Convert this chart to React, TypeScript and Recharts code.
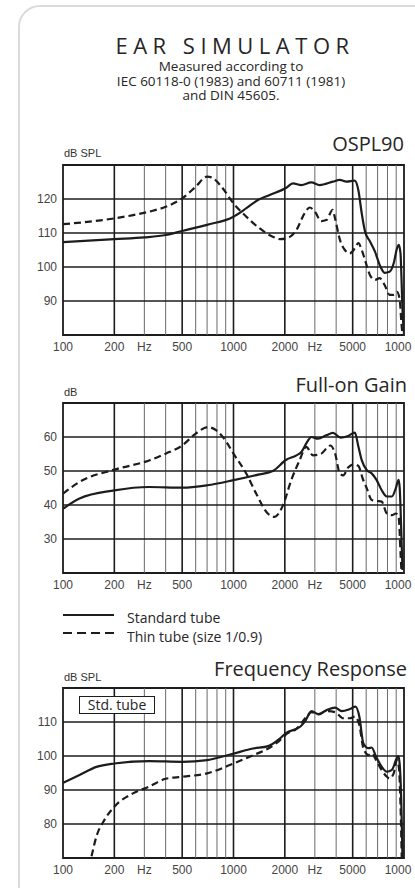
import { Line, LineChart, ReferenceArea, ReferenceLine, XAxis, YAxis } from 'recharts'

const TEXT_FONT = '"Open Sans", "Noto Sans", sans-serif'
const AXIS_FONT = '"Liberation Sans", Arial, sans-serif'
const INK = '#1c1c1c'

// frequency grid (log), labelled ticks
const gridFreqs = [100, 200, 300, 400, 500, 600, 700, 800, 900, 1000, 2000, 3000, 4000, 5000, 6000, 7000, 8000, 9000, 10000]
const majorFreqs = [200, 500, 1000, 2000, 5000]
const xTickFreqs = [100, 200, 300, 500, 1000, 2000, 3000, 5000, 10000]
const xTickLabels = ['100', '200', 'Hz', '500', '1000', '2000', 'Hz', '5000', '1000']

// OSPL90
const osplTicks = [90, 100, 110, 120]
const osplStdFreq = [100, 200, 300, 400, 500, 700, 1000, 1190, 1390, 1630, 2040, 2230, 2500, 2860, 3200, 3830, 4200, 4600, 5140, 5400, 5650, 5910, 6320, 6760, 7200, 7700, 8230, 8700, 9100, 9320, 9540, 9660, 9800, 10000]
const osplStdDb = [107.3, 108.2, 108.7, 109.4, 110.6, 112.4, 114.8, 117.3, 119.7, 121.2, 123.3, 124.6, 124.1, 124.9, 124.1, 125.1, 125.6, 125.1, 125.4, 122.6, 115.8, 110.4, 107.5, 104.5, 100.6, 98.3, 98.6, 101.1, 105.5, 106.5, 104, 97.2, 87.4, 80.5]
const osplThinFreq = [100, 200, 320, 400, 500, 600, 700, 760, 850, 1000, 1190, 1420, 1700, 1870, 2040, 2340, 2610, 2800, 3000, 3270, 3500, 3820, 3940, 4210, 4500, 4810, 5150, 5400, 5650, 5910, 6320, 6760, 7200, 7700, 8230, 8700, 9100, 9440, 9660, 9800]
const osplThinDb = [112.6, 114.3, 116.3, 117.7, 120.2, 123.6, 126.6, 126.1, 123.6, 118.7, 114.8, 111.4, 108.9, 108.2, 108.4, 110.9, 115.8, 117.5, 116.3, 113.5, 113.8, 116.8, 114.3, 108, 105, 104, 105.5, 107, 105, 102, 97.6, 96.2, 96.7, 94.7, 91.8, 91.8, 92.7, 90.3, 83.4, 80]

// Full-on gain
const gainTicks = [30, 40, 50, 60]
const gainStdFreq = [100, 125, 200, 320, 500, 700, 1000, 1420, 1700, 2040, 2340, 2500, 2700, 2860, 3130, 3500, 3830, 4250, 4700, 5150, 5400, 5650, 6040, 6460, 6900, 7390, 7930, 8490, 8950, 9300, 9440, 9620, 9800]
const gainStdDb = [38.9, 41.9, 44.3, 45.3, 45.1, 45.8, 47.3, 49, 50, 53.3, 54.6, 55.6, 58.5, 60, 59.5, 60.5, 61.2, 59.8, 60.3, 61.3, 57.2, 53.2, 50.3, 49.3, 47.4, 44.4, 42.5, 42.5, 44.9, 47.4, 44.9, 33.6, 20.9]
const gainThinFreq = [100, 125, 200, 320, 400, 500, 600, 710, 790, 910, 1000, 1190, 1360, 1590, 1740, 1950, 2180, 2440, 2670, 2930, 3270, 3700, 3950, 4200, 4400, 4700, 5100, 5400, 5750, 6050, 6460, 6900, 7400, 7930, 8500, 8950, 9300, 9540, 9660]
const gainThinDb = [43.3, 46.8, 50.4, 53.1, 55.1, 57.5, 61, 62.9, 62, 58.5, 55.1, 49.2, 43.3, 37.5, 36.5, 39.9, 47.3, 53.1, 57.1, 54.6, 55.1, 57.5, 55, 49.3, 48.7, 51, 52, 51.5, 47.5, 44.9, 41.5, 41.2, 41, 37.5, 37, 37.5, 36.5, 26, 20.5]

// Frequency response
const respTicks = [80, 90, 100, 110]
const respStdFreq = [100, 125, 157, 200, 320, 500, 700, 1000, 1300, 1600, 1870, 2040, 2340, 2460, 2620, 2870, 3140, 3520, 3940, 4310, 4810, 5200, 5470, 5780, 6200, 6460, 6860, 7390, 7930, 8490, 9060, 9270, 9440, 9640, 9800]
const respStdDb = [92.1, 94.4, 96.8, 97.8, 98.5, 98.3, 98.8, 100.7, 102.2, 102.9, 105.1, 106.8, 108, 108.6, 110.1, 113.2, 112.3, 113.5, 114.2, 113.2, 113.8, 114.5, 111.6, 103.7, 102.3, 102.5, 99.8, 96.9, 95.4, 95.9, 99.3, 100, 97.4, 86.6, 70]
const respThinFreq = [147, 157, 175, 200, 257, 320, 400, 500, 700, 1000, 1300, 1600, 1870, 2040, 2340, 2700, 2870, 3140, 3520, 3940, 4410, 4810, 5150, 5470, 5780, 6200, 6460, 6860, 7390, 7930, 8230, 8700, 9100, 9340, 9540, 9700]
const respThinDb = [70.5, 76.3, 81.2, 85.1, 89, 91, 93.3, 93.9, 94.9, 97.8, 100.2, 102.2, 104.6, 106.4, 108, 111.7, 112.9, 112.2, 113.2, 112.9, 111.1, 111.1, 111.6, 109.1, 102.3, 100.3, 100.8, 98.8, 95.9, 93.9, 93.4, 94.9, 98.8, 96.4, 85.6, 70]

const zip = (f: number[], v: number[]) => f.map((x, i) => ({ f: x, v: v[i] }))

function XTick({ x, y, payload }: { x: number; y: number; payload: { value: number } }) {
  const i = xTickFreqs.indexOf(payload.value)
  if (i < 0) return null
  const dx = payload.value === 10000 ? -6 : 0
  return (
    <text x={x + dx} y={y} dy="0.71em" textAnchor="middle" fill="#444" fontSize={12} fontFamily={AXIS_FONT}>
      {xTickLabels[i]}
    </text>
  )
}

interface PanelProps {
  top: number
  domain: [number, number]
  yTicks: number[]
  std: { f: number; v: number }[]
  thin: { f: number; v: number }[]
}

function Panel({ top, domain, yTicks, std, thin }: PanelProps) {
  return (
    <div style={{ position: 'absolute', left: 0, top }}>
      <LineChart width={415} height={195} margin={{ top: 5, right: 11, bottom: 0, left: 0 }}>
        <XAxis
          type="number"
          dataKey="f"
          scale="log"
          domain={[100, 10000]}
          ticks={xTickFreqs}
          interval={0}
          allowDataOverflow
          axisLine={false}
          tickLine={false}
          tickSize={0}
          tickMargin={7}
          height={20}
          tick={(p: any) => <XTick {...p} />}
        />
        <YAxis
          type="number"
          domain={domain}
          ticks={yTicks}
          allowDataOverflow
          axisLine={false}
          tickLine={false}
          tickSize={0}
          tickMargin={6}
          width={63}
          tick={{ fill: '#444', fontSize: 12, fontFamily: AXIS_FONT }}
        />
        {gridFreqs.slice(1, -1).map((g) => (
          <ReferenceLine
            key={'x' + g}
            x={g}
            stroke={majorFreqs.includes(g) ? INK : '#6a6a6a'}
            strokeWidth={majorFreqs.includes(g) ? 1.6 : 1}
          />
        ))}
        {yTicks.map((t) => (
          <ReferenceLine key={'y' + t} y={t} stroke={INK} strokeWidth={1.6} />
        ))}
        <ReferenceArea x1={100} x2={10000} y1={domain[0]} y2={domain[1]} fill="none" fillOpacity={0} stroke={INK} strokeWidth={1.8} />
        <Line data={thin} dataKey="v" type="monotone" stroke={INK} strokeWidth={2.2} strokeDasharray="7 4" dot={false} activeDot={false} isAnimationActive={false} />
        <Line data={std} dataKey="v" type="monotone" stroke={INK} strokeWidth={2.2} dot={false} activeDot={false} isAnimationActive={false} />
      </LineChart>
    </div>
  )
}

const abs = (s: React.CSSProperties): React.CSSProperties => ({ position: 'absolute', margin: 0, whiteSpace: 'nowrap', ...s })

export default function App() {
  return (
    <div style={{ position: 'absolute', left: 0, top: 0, width: 415, height: 888, overflow: 'hidden', background: '#fff', color: '#262626' }}>
      <div style={abs({ left: 18, top: 5, width: 460, height: 940, border: '2px solid #dadada', borderRadius: 22, boxSizing: 'border-box' })} />

      <div style={abs({ left: 0, top: 34, width: 470, textAlign: 'center', fontFamily: TEXT_FONT, fontSize: 22, lineHeight: '22px', letterSpacing: 5.5 })}>
        EAR SIMULATOR
      </div>
      <div style={abs({ left: 0, top: 59, width: 462, textAlign: 'center', fontFamily: TEXT_FONT, fontSize: 13.5, lineHeight: '14.5px' })}>
        Measured according to
        <br />
        IEC 60118-0 (1983) and 60711 (1981)
        <br />
        and DIN 45605.
      </div>

      <div style={abs({ left: 64, top: 148, fontFamily: AXIS_FONT, fontSize: 11, lineHeight: '11px', color: '#333' })}>dB SPL</div>
      <div style={abs({ right: 11, top: 134, fontFamily: TEXT_FONT, fontSize: 20, lineHeight: '20px' })}>OSPL90</div>
      <Panel top={160} domain={[80, 130]} yTicks={osplTicks} std={zip(osplStdFreq, osplStdDb)} thin={zip(osplThinFreq, osplThinDb)} />

      <div style={abs({ left: 64, top: 387, fontFamily: AXIS_FONT, fontSize: 11, lineHeight: '11px', color: '#333' })}>dB</div>
      <div style={abs({ right: 8, top: 375, fontFamily: TEXT_FONT, fontSize: 20, lineHeight: '20px' })}>Full-on Gain</div>
      <Panel top={398} domain={[20, 70]} yTicks={gainTicks} std={zip(gainStdFreq, gainStdDb)} thin={zip(gainThinFreq, gainThinDb)} />

      <svg style={abs({ left: 0, top: 600 })} width={130} height={45}>
        <line x1={63} x2={114} y1={15} y2={15} stroke={INK} strokeWidth={2.2} />
        <line x1={63} x2={114} y1={33} y2={33} stroke={INK} strokeWidth={2.2} strokeDasharray="9 5" />
      </svg>
      <div style={abs({ left: 127, top: 608, fontFamily: TEXT_FONT, fontSize: 14, lineHeight: '19px' })}>
        Standard tube
        <br />
        Thin tube (size 1/0.9)
      </div>

      <div style={abs({ left: 64, top: 672, fontFamily: AXIS_FONT, fontSize: 11, lineHeight: '11px', color: '#333' })}>dB SPL</div>
      <div style={abs({ right: 8, top: 659, fontFamily: TEXT_FONT, fontSize: 20, lineHeight: '20px' })}>Frequency Response</div>
      <Panel top={683} domain={[70, 120]} yTicks={respTicks} std={zip(respStdFreq, respStdDb)} thin={zip(respThinFreq, respThinDb)} />
      <div
        style={abs({
          left: 79,
          top: 696,
          width: 76,
          height: 18,
          boxSizing: 'border-box',
          border: `1px solid ${INK}`,
          background: '#fff',
          textAlign: 'center',
          fontFamily: TEXT_FONT,
          fontSize: 14,
          lineHeight: '16px',
        })}
      >
        Std. tube
      </div>
    </div>
  )
}
